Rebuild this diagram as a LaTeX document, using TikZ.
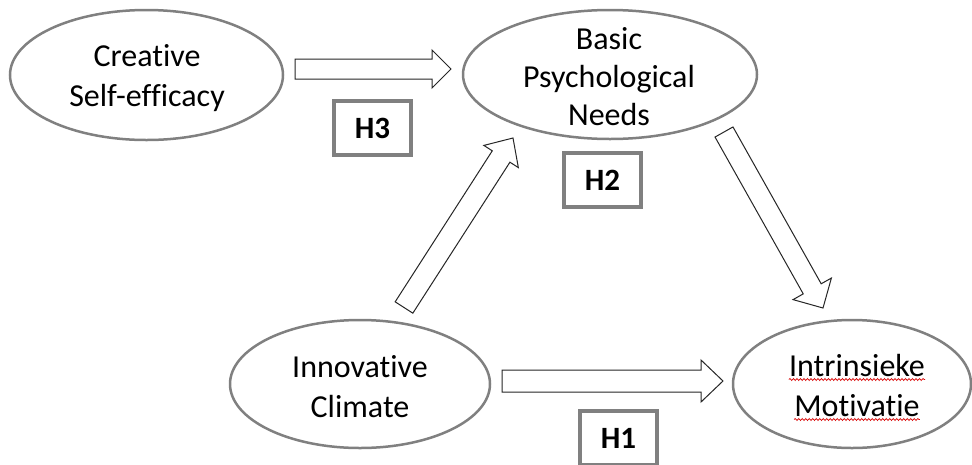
\documentclass[tikz,border=0pt]{standalone}
\usepackage{fontspec}
\setmainfont{Carlito}[Ligatures=NoCommon]
\usetikzlibrary{calc,shapes.geometric,decorations.pathmorphing}
\definecolor{ringgray}{HTML}{808080}
\tikzset{
  construct/.style={ellipse, draw=ringgray, line width=2.5pt, fill=white, inner sep=0pt},
  lbl/.style={align=center, font=\fontsize{32}{40}\selectfont, inner sep=0pt},
  lbltri/.style={align=center, font=\fontsize{32}{38}\selectfont, inner sep=0pt},
  hbox/.style={draw=ringgray, line width=4pt, fill=white, minimum width=77pt, minimum height=54pt, inner sep=0pt, font=\fontsize{31}{36}\selectfont\bfseries},
  barrow/.style={draw=black!85, line width=1pt, fill=white, line join=miter},
  squiggle/.style={draw=red!85!black, line width=0.7pt, decorate, decoration={snake, amplitude=1pt, segment length=3.5pt}}
}
\newcommand\blockarr[6]{% name, from, to, half shaft, half head, head length
  \coordinate (#1hb) at ($(#3)!#6!(#2)$);
  \draw[barrow] ($(#2)!#4!90:(#3)$) -- ($(#1hb)!#4!90:(#3)$) -- ($(#1hb)!#5!90:(#3)$) -- (#3)
    -- ($(#1hb)!#5!-90:(#3)$) -- ($(#1hb)!#4!-90:(#3)$) -- ($(#2)!#4!-90:(#3)$) -- cycle;}
\begin{document}
\begin{tikzpicture}[x=1pt,y=-1pt]
  \useasboundingbox (0,0) rectangle (972,464);
  \clip (0,0) rectangle (972,464);
  \fill[white] (0,0) rectangle (972,464);

  % constructs
  \node[construct, minimum width=273pt, minimum height=130pt] (cse) at (146.5,75) {};
  \node[lbl] (cset) at (147,78) {Creative\\Self-efficacy};

  \node[construct, minimum width=294pt, minimum height=129pt] (bpn) at (610,74.5) {};
  \node[lbltri] (bpnt) at (609,77) {Basic\\Psychological\\Needs};

  \node[construct, minimum width=260pt, minimum height=128pt] (ic) at (360,384) {};
  \node[lbl] (ict) at (360,387) {Innovative\\Climate};

  \node[construct, minimum width=238pt, minimum height=128pt] (im) at (852,384) {};
  \node[lbl, anchor=base] (im1) at (857,376) {Intrinsieke};
  \node[lbl, anchor=base] (im2) at (857,416) {Motivatie};
  \draw[squiggle] ([yshift=-3.5pt]im1.base west) -- ([yshift=-3.5pt]im1.base east);
  \draw[squiggle] ([yshift=-3.5pt]im2.base west) -- ([yshift=-3.5pt]im2.base east);

  % block arrows
  \coordinate (h3s) at (295,69);  \coordinate (h3e) at (451,69);
  \blockarr{a3}{h3s}{h3e}{10pt}{19pt}{19pt}
  \coordinate (h1s) at (502,381); \coordinate (h1e) at (723,381);
  \blockarr{a1}{h1s}{h1e}{11pt}{21pt}{22pt}
  \coordinate (h2s) at (404,307.5); \coordinate (h2e) at (513,138);
  \blockarr{a2}{h2s}{h2e}{10.5pt}{20.5pt}{22pt}
  \coordinate (h4s) at (724,132); \coordinate (h4e) at (823,308);
  \blockarr{a4}{h4s}{h4e}{10.3pt}{22pt}{22pt}

  % hypothesis labels
  \node[hbox] (H3) at (372.5,128) {H3};
  \node[hbox] (H2) at (602.5,180) {H2};
  \node[hbox] (H1) at (618.5,438) {H1};
\end{tikzpicture}
\end{document}
